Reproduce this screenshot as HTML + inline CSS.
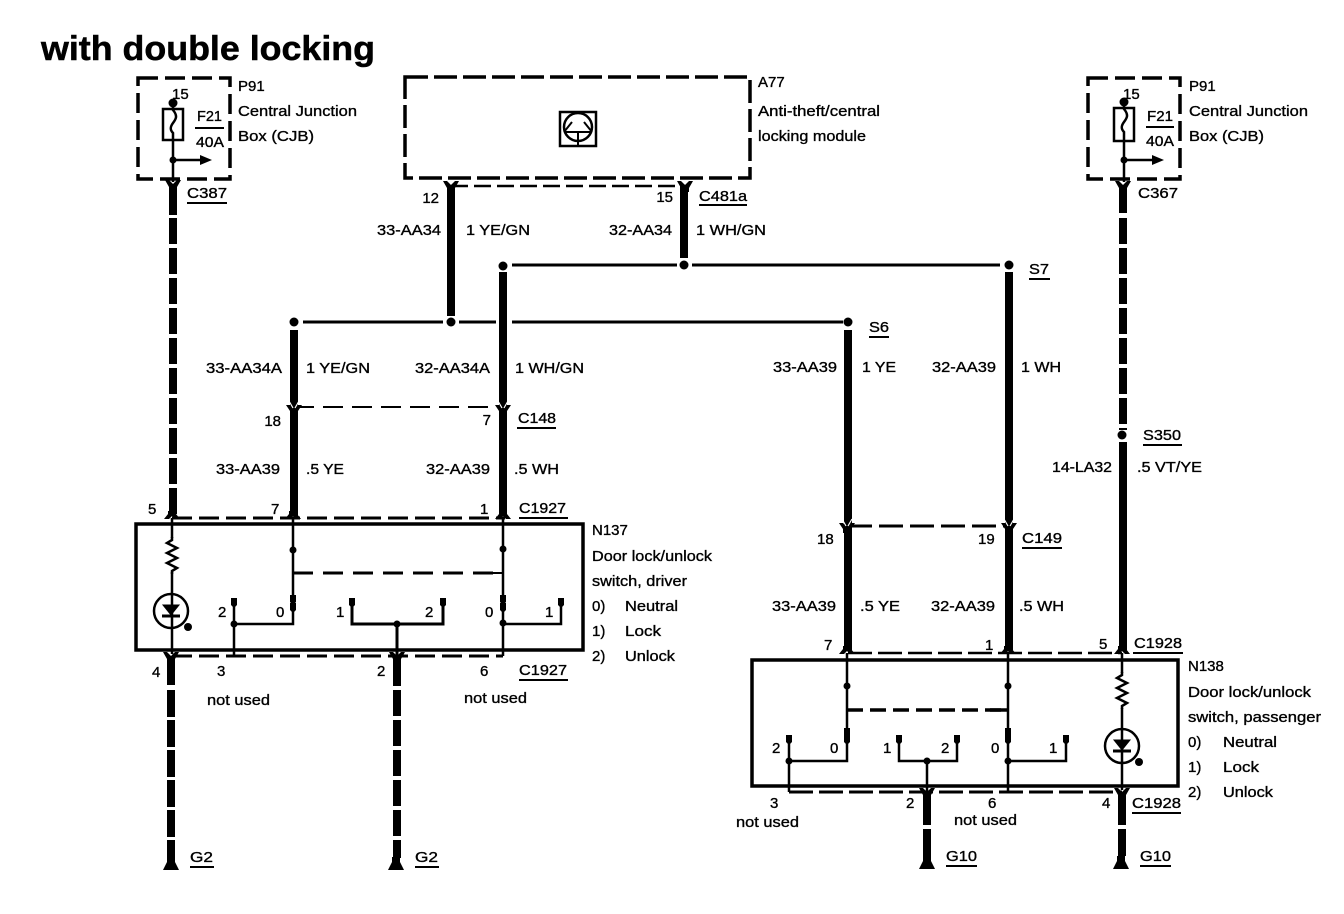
<!DOCTYPE html>
<html><head><meta charset="utf-8"><style>
html,body{margin:0;padding:0;background:#fff}
svg{display:block}
text{font-family:"Liberation Sans",sans-serif;font-size:15px;fill:#000;stroke:#000;stroke-width:.35px}
.t{font-size:34px;font-weight:bold;stroke-width:.5px}
.e{text-anchor:end}
</style></head><body>
<svg width="1344" height="914" viewBox="0 0 1344 914" xmlns="http://www.w3.org/2000/svg">
<defs>
<path id="y" d="M-8-5-4-5 0-1 4-5 8-5 4 2 4 6-4 6-4 2Z" fill="#000"/>
<path id="a" d="M-4-6 4-6 4-3 8 2 3 2 0-1-3 2-8 2-4-3Z" fill="#000"/>
<g id="v"><path d="M-8-3-4-3 0 1 4-3 8-3 4 3 4 7-4 7-4 3Z" fill="#000"/><path d="M-5-7-1 0M5-7 1 0" stroke="#fff" stroke-width="1.2"/></g>
<path id="r" d="M0 0 0 3-5 6 5 11-5 16 5 21-5 26 5 31 0 34 0 37" fill="none" stroke="#000" stroke-width="2.5"/>
<g id="gnd" fill="#000"><rect x="-4" y="-8" width="8" height="6"/><path d="M-3-5 3-5 8 5-8 5Z"/></g>
<g id="led" fill="none" stroke="#000"><circle r="17" stroke-width="2.5"/><path d="M-8-6 8-6 0 4Z" fill="#000"/><path d="M-9 5 9 5" stroke-width="3"/><circle cx="17" cy="16" r="4" fill="#000" stroke="none"/></g>
<g id="p"><path d="M-3-5 3-5 3 2 0 5-3 2Z" fill="#000"/></g>
</defs>
<rect width="1344" height="914" fill="#fff"/>
<text class="t" x="41" y="60" textLength="334" lengthAdjust="spacingAndGlyphs">with double locking</text>

<g fill="none" stroke="#000">
<!-- dashed boxes -->
<g stroke-width="3.5" stroke-dasharray="20 7">
<rect x="138" y="78" width="92" height="101"/>
<rect x="1088" y="78" width="92" height="101"/>
<rect x="405" y="77" width="345" height="101" stroke-dasharray="23 6"/>
</g>
<!-- fuses -->
<g stroke-width="2.5">
<rect x="163" y="109" width="20" height="31"/>
<path d="M173 103V110c5 6 3 9 0 13-3 4-3 7 0 10V182M173 160H200"/>
<rect x="1114" y="108" width="20" height="33"/>
<path d="M1124 102V109c5 6 3 9 0 13-3 4-3 7 0 10V182M1124 160H1152"/>
</g>
<path d="M195 128H224M1146 127H1174" stroke-width="2"/>
<!-- icon -->
<rect x="560" y="112" width="36" height="34" stroke-width="2.5"/>
<circle cx="578" cy="127" r="14" stroke-width="2.5"/>
<path d="M564 132 572 122M592 132 584 122M566 132H590M578 132V146" stroke-width="2"/>

<!-- thick wires -->
<g stroke-width="8">
<path d="M173 186V215"/>
<path d="M173 218V515" stroke-dasharray="26 4"/>
<path d="M171 658V685"/><path d="M171 690V858" stroke-dasharray="27 3"/>
<path d="M397 656V686"/><path d="M397 690V858" stroke-dasharray="26 4"/>
<path d="M451 186V316M684 186V258M503 272V516"/>
<path d="M294 330V516M848 330V650M1009 272V650"/>
<path d="M1123 186V213"/><path d="M1123 218V430" stroke-dasharray="26 4"/>
<path d="M1123 442V650"/>
<path d="M927 794V825M927 829V856M1122 794V825M1122 829V856"/>
</g>
<!-- horizontal buses -->
<g stroke-width="3">
<path d="M512 265H677M692 265H1000M303 322H443M459 322H496M512 322H843"/>
<path d="M451 186H685" stroke-width="2.5" stroke-dasharray="17 6"/>
<path d="M294 407H503" stroke-width="2" stroke-dasharray="20 9"/>
<path d="M848 526H1009" stroke-width="3" stroke-dasharray="24 7"/>
<path d="M172 518H505" stroke-dasharray="20 7"/>
<path d="M172 656H503" stroke-dasharray="20 7"/>
<path d="M848 653H1122" stroke-width="2.5" stroke-dasharray="24 6"/>
<path d="M789 792H1122" stroke-dasharray="24 6"/>
</g>
<!-- component boxes -->
<rect x="136" y="524" width="447" height="126" stroke-width="3.5"/>
<rect x="752" y="660" width="426" height="126" stroke-width="3.5"/>
<!-- N137 inner -->
<g stroke-width="2.5">
<path d="M172 518V538M172 572V654"/>
<path d="M293 518V624H234M234 602V656"/>
<path d="M503 518V656M503 624H561V602"/>
<path d="M352 602V624H443V602M397 624V656" stroke-width="3"/>
<path d="M293 573H503" stroke-dasharray="20 10" stroke-width="3"/>
<path d="M480 573H503" stroke-width="2"/>
</g>
<!-- N138 inner -->
<g stroke-width="2.5">
<path d="M1122 653V673M1122 708V790"/>
<path d="M847 653V761H789M789 739V792"/>
<path d="M1008 653V792M1008 761H1066V739"/>
<path d="M899 739V761H957V739M927 761V792"/>
<path d="M847 710H1008" stroke-dasharray="16 7" stroke-width="3.5"/>
<path d="M990 710H1008" stroke-width="3.5"/>
</g>
</g>

<!-- dots -->
<g fill="#000">
<circle cx="173" cy="103" r="4.5"/><circle cx="173" cy="160" r="3.5"/><path d="M200 155 212 160 200 165Z"/>
<circle cx="1124" cy="102" r="4.5"/><circle cx="1124" cy="160" r="3.5"/><path d="M1152 155 1164 160 1152 165Z"/>
<circle cx="503" cy="266" r="4.5"/><circle cx="684" cy="265" r="4.5"/><circle cx="1009" cy="265" r="4.5"/>
<circle cx="294" cy="322" r="4.5"/><circle cx="451" cy="322" r="4.5"/><circle cx="848" cy="322" r="4.5"/>
<circle cx="1122" cy="435" r="4.5"/>
<circle cx="293" cy="550" r="3.5"/><circle cx="503" cy="549" r="3.5"/><circle cx="234" cy="624" r="3.5"/><circle cx="503" cy="623" r="3.5"/><circle cx="397" cy="624" r="3.5"/>
<circle cx="847" cy="686" r="3.5"/><circle cx="1008" cy="686" r="3.5"/><circle cx="789" cy="761" r="3.5"/><circle cx="1008" cy="761" r="3.5"/><circle cx="927" cy="761" r="3.5"/>
</g>
<use href="#p" x="234" y="603"/><use href="#p" x="352" y="603"/><use href="#p" x="443" y="603"/><use href="#p" x="561" y="603"/>
<use href="#p" x="293" y="600"/><use href="#p" x="293" y="608"/><use href="#p" x="503" y="600"/><use href="#p" x="503" y="608"/>
<use href="#p" x="789" y="740"/><use href="#p" x="899" y="740"/><use href="#p" x="957" y="740"/><use href="#p" x="1066" y="740"/>
<use href="#p" x="847" y="733"/><use href="#p" x="847" y="740"/><use href="#p" x="1008" y="733"/><use href="#p" x="1008" y="740"/>

<!-- forks -->
<use href="#y" x="173" y="185"/><use href="#y" x="1123" y="186"/><use href="#y" x="451" y="186"/><use href="#y" x="685" y="186"/>
<use href="#v" x="294" y="408"/><use href="#v" x="503" y="408"/><use href="#v" x="847" y="526"/><use href="#v" x="1009" y="526"/>
<use href="#a" x="172" y="517"/><use href="#a" x="293" y="517"/><use href="#a" x="503" y="517"/>
<use href="#y" x="171" y="657"/><use href="#y" x="397" y="657"/>
<use href="#a" x="847" y="652"/><use href="#a" x="1008" y="652"/><use href="#a" x="1122" y="652"/>
<use href="#y" x="927" y="793"/><use href="#y" x="1122" y="793"/>
<use href="#r" x="172" y="537"/><use href="#r" x="1122" y="672"/>
<use href="#led" x="171" y="611"/><use href="#led" x="1122" y="746"/>
<use href="#gnd" x="171" y="865"/><use href="#gnd" x="396" y="865"/><use href="#gnd" x="927" y="864"/><use href="#gnd" x="1121" y="864"/>

<!-- underlines -->
<g stroke="#000" stroke-width="2">
<path d="M187 203H227"/><path d="M699 205H747"/><path d="M1029 279H1050"/><path d="M869 337H889"/><path d="M517 428H556"/><path d="M1143 445H1182"/>
<path d="M1022 548H1062"/><path d="M519 518H568"/><path d="M519 680H568"/><path d="M1133 653H1183"/><path d="M1132 813H1181"/>
<path d="M190 867H214"/><path d="M415 867H439"/><path d="M946 866H977"/><path d="M1140 866H1171"/>
</g>

<!-- labels -->
<text x="172" y="99">15</text><text x="197" y="121" textLength="25" lengthAdjust="spacingAndGlyphs">F21</text><text x="196" y="147" textLength="28" lengthAdjust="spacingAndGlyphs">40A</text>
<text x="238" y="91">P91</text><text x="238" y="116" textLength="119" lengthAdjust="spacingAndGlyphs">Central Junction</text><text x="238" y="141" textLength="76" lengthAdjust="spacingAndGlyphs">Box (CJB)</text>
<text x="187" y="198" textLength="40" lengthAdjust="spacingAndGlyphs">C387</text>
<text x="1123" y="99">15</text><text x="1147" y="121" textLength="26" lengthAdjust="spacingAndGlyphs">F21</text><text x="1146" y="146" textLength="28" lengthAdjust="spacingAndGlyphs">40A</text>
<text x="1189" y="91">P91</text><text x="1189" y="116" textLength="119" lengthAdjust="spacingAndGlyphs">Central Junction</text><text x="1189" y="141" textLength="75" lengthAdjust="spacingAndGlyphs">Box (CJB)</text>
<text x="1138" y="198" textLength="40" lengthAdjust="spacingAndGlyphs">C367</text>
<text x="758" y="87">A77</text><text x="758" y="116" textLength="122" lengthAdjust="spacingAndGlyphs">Anti-theft/central</text><text x="758" y="141" textLength="108" lengthAdjust="spacingAndGlyphs">locking module</text>
<text class="e" x="439" y="203">12</text><text class="e" x="673" y="202">15</text><text x="699" y="201" textLength="48" lengthAdjust="spacingAndGlyphs">C481a</text>
<text class="e" x="441" y="235" textLength="64" lengthAdjust="spacingAndGlyphs">33-AA34</text><text x="466" y="235" textLength="64" lengthAdjust="spacingAndGlyphs">1 YE/GN</text>
<text class="e" x="672" y="235" textLength="63" lengthAdjust="spacingAndGlyphs">32-AA34</text><text x="696" y="235" textLength="70" lengthAdjust="spacingAndGlyphs">1 WH/GN</text>
<text x="1029" y="274" textLength="20" lengthAdjust="spacingAndGlyphs">S7</text><text x="869" y="332" textLength="20" lengthAdjust="spacingAndGlyphs">S6</text>
<text class="e" x="282" y="373" textLength="76" lengthAdjust="spacingAndGlyphs">33-AA34A</text><text x="306" y="373" textLength="64" lengthAdjust="spacingAndGlyphs">1 YE/GN</text>
<text class="e" x="490" y="373" textLength="75" lengthAdjust="spacingAndGlyphs">32-AA34A</text><text x="515" y="373" textLength="69" lengthAdjust="spacingAndGlyphs">1 WH/GN</text>
<text class="e" x="837" y="372" textLength="64" lengthAdjust="spacingAndGlyphs">33-AA39</text><text x="862" y="372" textLength="34" lengthAdjust="spacingAndGlyphs">1 YE</text>
<text class="e" x="996" y="372" textLength="64" lengthAdjust="spacingAndGlyphs">32-AA39</text><text x="1021" y="372" textLength="40" lengthAdjust="spacingAndGlyphs">1 WH</text>
<text class="e" x="281" y="426">18</text><text class="e" x="491" y="425">7</text><text x="518" y="423" textLength="38" lengthAdjust="spacingAndGlyphs">C148</text>
<text x="1143" y="440" textLength="38" lengthAdjust="spacingAndGlyphs">S350</text>
<text class="e" x="1112" y="472" textLength="60" lengthAdjust="spacingAndGlyphs">14-LA32</text><text x="1137" y="472" textLength="65" lengthAdjust="spacingAndGlyphs">.5 VT/YE</text>
<text class="e" x="280" y="474" textLength="64" lengthAdjust="spacingAndGlyphs">33-AA39</text><text x="306" y="474" textLength="38" lengthAdjust="spacingAndGlyphs">.5 YE</text>
<text class="e" x="490" y="474" textLength="64" lengthAdjust="spacingAndGlyphs">32-AA39</text><text x="514" y="474" textLength="45" lengthAdjust="spacingAndGlyphs">.5 WH</text>
<text x="148" y="514">5</text><text x="271" y="514">7</text><text x="480" y="514">1</text><text x="519" y="513" textLength="47" lengthAdjust="spacingAndGlyphs">C1927</text>
<text x="592" y="535">N137</text><text x="592" y="561" textLength="120" lengthAdjust="spacingAndGlyphs">Door lock/unlock</text><text x="592" y="586" textLength="95" lengthAdjust="spacingAndGlyphs">switch, driver</text>
<text x="592" y="611">0)</text><text x="625" y="611" textLength="53" lengthAdjust="spacingAndGlyphs">Neutral</text>
<text x="592" y="636">1)</text><text x="625" y="636" textLength="36" lengthAdjust="spacingAndGlyphs">Lock</text>
<text x="592" y="661">2)</text><text x="625" y="661" textLength="50" lengthAdjust="spacingAndGlyphs">Unlock</text>
<text x="218" y="617">2</text><text x="276" y="617">0</text><text x="336" y="617">1</text><text x="425" y="617">2</text><text x="485" y="617">0</text><text x="545" y="617">1</text>
<text x="152" y="677">4</text><text x="217" y="676">3</text><text x="377" y="676">2</text><text x="480" y="676">6</text><text x="519" y="675" textLength="48" lengthAdjust="spacingAndGlyphs">C1927</text>
<text x="207" y="705" textLength="63" lengthAdjust="spacingAndGlyphs">not used</text><text x="464" y="703" textLength="63" lengthAdjust="spacingAndGlyphs">not used</text>
<text x="817" y="544">18</text><text x="978" y="544">19</text><text x="1022" y="543" textLength="40" lengthAdjust="spacingAndGlyphs">C149</text>
<text class="e" x="836" y="611" textLength="64" lengthAdjust="spacingAndGlyphs">33-AA39</text><text x="860" y="611" textLength="40" lengthAdjust="spacingAndGlyphs">.5 YE</text>
<text class="e" x="995" y="611" textLength="64" lengthAdjust="spacingAndGlyphs">32-AA39</text><text x="1019" y="611" textLength="45" lengthAdjust="spacingAndGlyphs">.5 WH</text>
<text x="824" y="650">7</text><text x="985" y="650">1</text><text x="1099" y="649">5</text><text x="1134" y="648" textLength="48" lengthAdjust="spacingAndGlyphs">C1928</text>
<text x="1188" y="671">N138</text><text x="1188" y="697" textLength="123" lengthAdjust="spacingAndGlyphs">Door lock/unlock</text><text x="1188" y="722" textLength="133" lengthAdjust="spacingAndGlyphs">switch, passenger</text>
<text x="1188" y="747">0)</text><text x="1223" y="747" textLength="54" lengthAdjust="spacingAndGlyphs">Neutral</text>
<text x="1188" y="772">1)</text><text x="1223" y="772" textLength="36" lengthAdjust="spacingAndGlyphs">Lock</text>
<text x="1188" y="797">2)</text><text x="1223" y="797" textLength="50" lengthAdjust="spacingAndGlyphs">Unlock</text>
<text x="772" y="753">2</text><text x="830" y="753">0</text><text x="883" y="753">1</text><text x="941" y="753">2</text><text x="991" y="753">0</text><text x="1049" y="753">1</text>
<text x="770" y="808">3</text><text x="906" y="808">2</text><text x="988" y="808">6</text><text x="1102" y="808">4</text><text x="1132" y="808" textLength="49" lengthAdjust="spacingAndGlyphs">C1928</text>
<text x="736" y="827" textLength="63" lengthAdjust="spacingAndGlyphs">not used</text><text x="954" y="825" textLength="63" lengthAdjust="spacingAndGlyphs">not used</text>
<text x="190" y="862" textLength="23" lengthAdjust="spacingAndGlyphs">G2</text><text x="415" y="862" textLength="23" lengthAdjust="spacingAndGlyphs">G2</text><text x="946" y="861" textLength="31" lengthAdjust="spacingAndGlyphs">G10</text><text x="1140" y="861" textLength="31" lengthAdjust="spacingAndGlyphs">G10</text>
</svg>
</body></html>
